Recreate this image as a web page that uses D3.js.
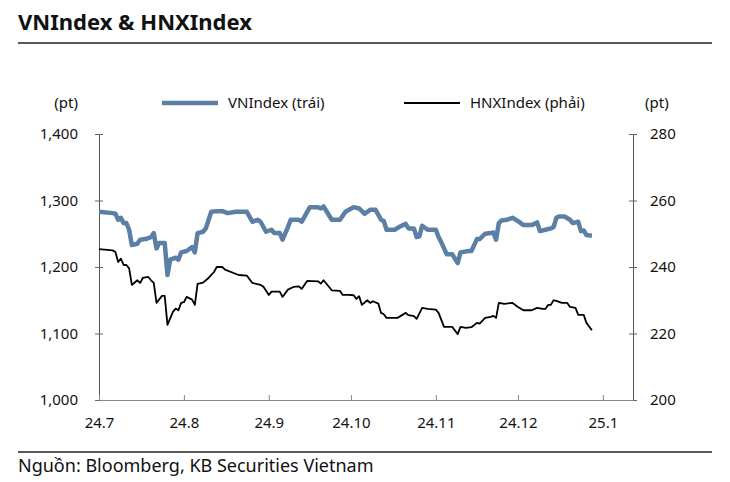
<!DOCTYPE html>
<html><head><meta charset="utf-8">
<script src="https://cdn.jsdelivr.net/npm/d3@7"></script>
<style>
body{margin:0;background:#fff}
svg{display:block}
text{font-family:"Noto Sans",sans-serif;fill:#111}
</style>
</head><body>
<svg id="c" width="730" height="482"></svg>
<script>
// ---- data ----
const monthTicks = ["2024-07-01","2024-08-01","2024-09-01","2024-10-01","2024-11-01","2024-12-01","2025-01-01"];
const monthLabels = ["24.7","24.8","24.9","24.10","24.11","24.12","25.1"];
const leftTicks = [1000,1100,1200,1300,1400];
const rightTicks = [200,220,240,260,280];

const vnDates = ["2024-07-01","2024-07-06","2024-07-07","2024-07-08","2024-07-09","2024-07-10","2024-07-11","2024-07-12","2024-07-13","2024-07-15","2024-07-16","2024-07-18","2024-07-20","2024-07-21","2024-07-22","2024-07-23","2024-07-25","2024-07-26","2024-07-27","2024-07-29","2024-07-30","2024-07-31","2024-08-02","2024-08-04","2024-08-05","2024-08-06","2024-08-08","2024-08-09","2024-08-11","2024-08-13","2024-08-15","2024-08-17","2024-08-20","2024-08-24","2024-08-26","2024-08-28","2024-08-29","2024-08-31","2024-09-02","2024-09-03","2024-09-05","2024-09-06","2024-09-08","2024-09-09","2024-09-12","2024-09-13","2024-09-16","2024-09-19","2024-09-20","2024-09-21","2024-09-24","2024-09-27","2024-09-29","2024-10-02","2024-10-04","2024-10-06","2024-10-08","2024-10-10","2024-10-12","2024-10-13","2024-10-14","2024-10-17","2024-10-19","2024-10-20","2024-10-21","2024-10-22","2024-10-24","2024-10-25","2024-10-26","2024-10-27","2024-10-29","2024-11-01","2024-11-02","2024-11-03","2024-11-05","2024-11-07","2024-11-09","2024-11-10","2024-11-13","2024-11-14","2024-11-16","2024-11-17","2024-11-19","2024-11-21","2024-11-22","2024-11-23","2024-11-24","2024-11-25","2024-11-27","2024-11-29","2024-12-01","2024-12-03","2024-12-06","2024-12-08","2024-12-09","2024-12-11","2024-12-13","2024-12-14","2024-12-15","2024-12-16","2024-12-18","2024-12-20","2024-12-21","2024-12-23","2024-12-24","2024-12-25","2024-12-26","2024-12-28"];
const vnValues = [1283,1281,1280,1271,1274,1266,1266,1256,1233,1235,1241,1242,1245,1251,1228,1236,1236,1188,1211,1214,1211,1222,1224,1230,1222,1251,1253,1258,1283,1284,1284,1281,1283,1283,1268,1271,1268,1253,1256,1251,1251,1241,1260,1271,1271,1268,1290,1290,1288,1291,1271,1271,1283,1290,1288,1280,1286,1286,1271,1269,1256,1256,1261,1263,1265,1258,1258,1245,1246,1262,1256,1256,1245,1237,1219,1219,1206,1222,1224,1224,1242,1242,1250,1251,1252,1241,1266,1270,1271,1274,1269,1263,1263,1267,1254,1256,1258,1260,1274,1276,1276,1271,1266,1268,1254,1255,1248,1247];

const hnxDates = ["2024-07-01","2024-07-06","2024-07-07","2024-07-08","2024-07-09","2024-07-10","2024-07-11","2024-07-12","2024-07-13","2024-07-15","2024-07-16","2024-07-17","2024-07-19","2024-07-20","2024-07-21","2024-07-22","2024-07-24","2024-07-25","2024-07-26","2024-07-28","2024-07-29","2024-07-30","2024-07-31","2024-08-01","2024-08-02","2024-08-04","2024-08-05","2024-08-06","2024-08-08","2024-08-10","2024-08-12","2024-08-13","2024-08-15","2024-08-16","2024-08-21","2024-08-24","2024-08-26","2024-08-29","2024-08-30","2024-09-01","2024-09-02","2024-09-05","2024-09-06","2024-09-08","2024-09-10","2024-09-12","2024-09-13","2024-09-15","2024-09-19","2024-09-20","2024-09-21","2024-09-24","2024-09-27","2024-09-28","2024-09-30","2024-10-02","2024-10-03","2024-10-04","2024-10-05","2024-10-07","2024-10-08","2024-10-09","2024-10-11","2024-10-12","2024-10-13","2024-10-14","2024-10-18","2024-10-21","2024-10-22","2024-10-24","2024-10-25","2024-10-27","2024-10-29","2024-11-01","2024-11-02","2024-11-04","2024-11-07","2024-11-09","2024-11-10","2024-11-12","2024-11-14","2024-11-16","2024-11-17","2024-11-19","2024-11-21","2024-11-22","2024-11-23","2024-11-24","2024-11-26","2024-11-29","2024-12-01","2024-12-03","2024-12-06","2024-12-08","2024-12-10","2024-12-11","2024-12-12","2024-12-13","2024-12-14","2024-12-15","2024-12-17","2024-12-19","2024-12-20","2024-12-22","2024-12-23","2024-12-25","2024-12-26","2024-12-28"];
const hnxValues = [245.4,245,244.5,241.5,242.5,240.6,240.6,239.6,234.6,236,235.2,236.7,237,236,235.2,229.2,231.3,231.3,222.6,226.5,227.5,227,229.2,229.4,231,230.2,228.6,234.9,235.3,236.7,238.5,240,240,239.2,237.6,237.4,235.2,234.6,234.1,231.6,232.6,232.6,231,233.2,234,234.2,233.4,235.8,235.7,235,236,233,232.8,231.6,231.6,231.5,230.4,231.2,228.6,230,229.2,229.7,229,226.2,225.8,224.7,224.7,226.2,225.5,225.2,224.4,227.7,227.4,227.2,226.2,222,222,219.8,222,221.7,221.9,223.2,223,224.7,225,225.3,224.7,229.2,228.9,229.2,228,227,227,227.7,227.4,227.4,228.6,228.6,230,229.8,229.2,229.2,228,227.7,225.6,225.6,223.2,221];

// ---- chart ----
const parse = d3.utcParse("%Y-%m-%d");
const svg = d3.select("#c");
const x = d3.scaleUtc().domain([parse("2024-07-01"), parse("2025-01-12")]).range([99, 633]);
const yL = d3.scaleLinear().domain([1000, 1400]).range([400, 134]);
const yR = d3.scaleLinear().domain([200, 280]).range([400, 134]);

// title
svg.append("text").attr("x", 18).attr("y", 30).attr("font-size", 22).attr("font-weight", "bold").text("VNIndex & HNXIndex");
svg.append("line").attr("x1", 18).attr("x2", 712).attr("y1", 43).attr("y2", 43).attr("stroke", "#222").attr("stroke-width", 1.5);

// axes
const gL = svg.append("g").attr("transform", "translate(99,0)")
  .call(d3.axisLeft(yL).tickValues(leftTicks).tickFormat(d3.format(",")).tickSizeInner(4).tickSizeOuter(0).tickPadding(17));
gL.selectAll(".tick line").attr("x1", 4);
const gR = svg.append("g").attr("transform", "translate(633,0)")
  .call(d3.axisRight(yR).tickValues(rightTicks).tickSizeInner(4).tickSizeOuter(0).tickPadding(13));
gR.selectAll(".tick line").attr("x1", -4);
const gB = svg.append("g").attr("transform", "translate(0,400)")
  .call(d3.axisBottom(x).tickValues(monthTicks.map(parse)).tickFormat((d, i) => monthLabels[i]).tickSizeInner(-5).tickSizeOuter(0).tickPadding(17));
[gL, gR, gB].forEach(g => {
  g.selectAll("text").attr("font-size", 15).attr("font-family", '"Noto Sans",sans-serif').attr("fill", "#111");
  g.selectAll(".tick line").attr("stroke", "#666");
});
gL.select(".domain").attr("stroke", "#555");
gR.select(".domain").attr("stroke", "#555");
gB.select(".domain").attr("stroke", "#888");
gB.selectAll(".tick line").attr("stroke", "#888");

// unit labels
svg.append("text").attr("x", 78).attr("y", 108).attr("text-anchor", "end").attr("font-size", 15).text("(pt)");
svg.append("text").attr("x", 645).attr("y", 108).attr("font-size", 15).text("(pt)");

// legend
svg.append("line").attr("x1", 162).attr("x2", 218).attr("y1", 103).attr("y2", 103).attr("stroke", "#5b7fa5").attr("stroke-width", 4.5);
svg.append("text").attr("x", 228).attr("y", 108).attr("font-size", 15).text("VNIndex (trái)");
svg.append("line").attr("x1", 404).attr("x2", 460).attr("y1", 103).attr("y2", 103).attr("stroke", "#000").attr("stroke-width", 1.8);
svg.append("text").attr("x", 470).attr("y", 108).attr("font-size", 15).text("HNXIndex (phải)");

// lines
const vn = vnDates.map((d, i) => [parse(d), vnValues[i]]);
const hnx = hnxDates.map((d, i) => [parse(d), hnxValues[i]]);
svg.append("path").datum(vn).attr("fill", "none").attr("stroke", "#5b7fa5").attr("stroke-width", 4.5).attr("stroke-linejoin", "round")
  .attr("d", d3.line().x(d => x(d[0])).y(d => yL(d[1])));
svg.append("path").datum(hnx).attr("fill", "none").attr("stroke", "#000").attr("stroke-width", 1.8).attr("stroke-linejoin", "round")
  .attr("d", d3.line().x(d => x(d[0])).y(d => yR(d[1])));

// source
svg.append("line").attr("x1", 18).attr("x2", 712).attr("y1", 452).attr("y2", 452).attr("stroke", "#222").attr("stroke-width", 1.5);
svg.append("text").attr("x", 18).attr("y", 472).attr("font-size", 18).text("Nguồn: Bloomberg, KB Securities Vietnam");
</script>
</body></html>
